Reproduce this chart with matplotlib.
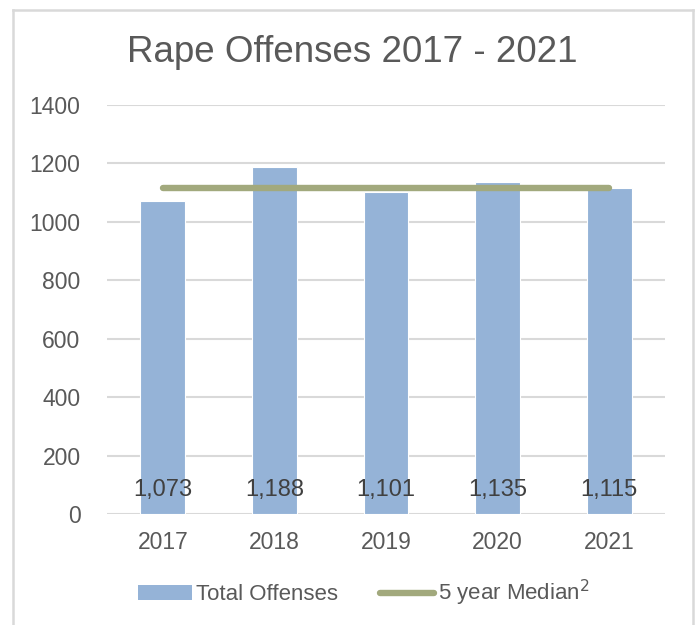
import matplotlib
matplotlib.use("Agg")
import matplotlib.pyplot as plt
from matplotlib.lines import Line2D
from matplotlib.patches import Patch
import numpy as np

years = ["2017", "2018", "2019", "2020", "2021"]
offenses = [1073, 1188, 1101, 1135, 1115]
median_5yr = [1115, 1115, 1115, 1115, 1115]
labels = ["1,073", "1,188", "1,101", "1,135", "1,115"]
yticks = [0, 200, 400, 600, 800, 1000, 1200, 1400]

bar_color = "#95B3D7"
line_color = "#A2A97D"
text_color = "#595959"
label_color = "#404040"
grid_color = "#D9D9D9"

plt.rcParams['font.family'] = ['Liberation Sans', 'DejaVu Sans']

W, H = 697, 625
fig = plt.figure(figsize=(W / 100, H / 100), dpi=100)

def fx(px):
    return px / W
def fy(py):
    return 1 - py / H

# outer chart border (left, top, right)
for (x0, y0, x1, y1) in [(13, 10, 13, 625), (13, 10, 693, 10), (693, 10, 693, 625)]:
    fig.add_artist(Line2D([fx(x0), fx(x1)], [fy(y0), fy(y1)], color="#D9D9D9", lw=1.8))

ax = fig.add_axes([fx(107), fy(514), fx(665) - fx(107), fy(105) - fy(514)])
x = np.arange(len(years))
ax.bar(x, offenses, width=0.4, color=bar_color, edgecolor="white", linewidth=0.8, zorder=2)
ax.plot(x, median_5yr, color=line_color, lw=4.6, solid_capstyle="round", zorder=3)

for xi, lab in zip(x, labels):
    ax.text(xi, 82, lab, ha="center", va="center", fontsize=17, color=label_color, zorder=4)

ax.set_xlim(-0.5, len(years) - 0.5)
ax.set_ylim(0, 1400)
ax.set_yticks(yticks)
ax.set_xticks(x)
ax.set_xticklabels(years)
ax.tick_params(axis="both", length=0, labelsize=16.5, colors=text_color)
ax.tick_params(axis="y", pad=19)
ax.tick_params(axis="x", pad=12)
ax.grid(axis="y", color=grid_color, lw=1.5, zorder=0)
ax.set_axisbelow(True)
for s in ax.spines.values():
    s.set_visible(False)

fig.text(fx(352), fy(52), "Rape Offenses 2017 - 2021", ha="center", va="center",
         fontsize=26.5, color=text_color)

handles = [Patch(facecolor=bar_color, edgecolor="none"),
           Line2D([0], [0], color=line_color, lw=4.6, solid_capstyle="round")]
leg = fig.legend(handles, ["Total Offenses", "5 year Median$^{2}$"], loc="center",
                 bbox_to_anchor=(fx(364), fy(593)), ncol=2, frameon=False,
                 fontsize=16, handlelength=2.4, handleheight=0.6, handletextpad=0.2,
                 columnspacing=1.9, labelcolor=text_color)

fig.savefig("out.png", dpi=100, facecolor="white")
